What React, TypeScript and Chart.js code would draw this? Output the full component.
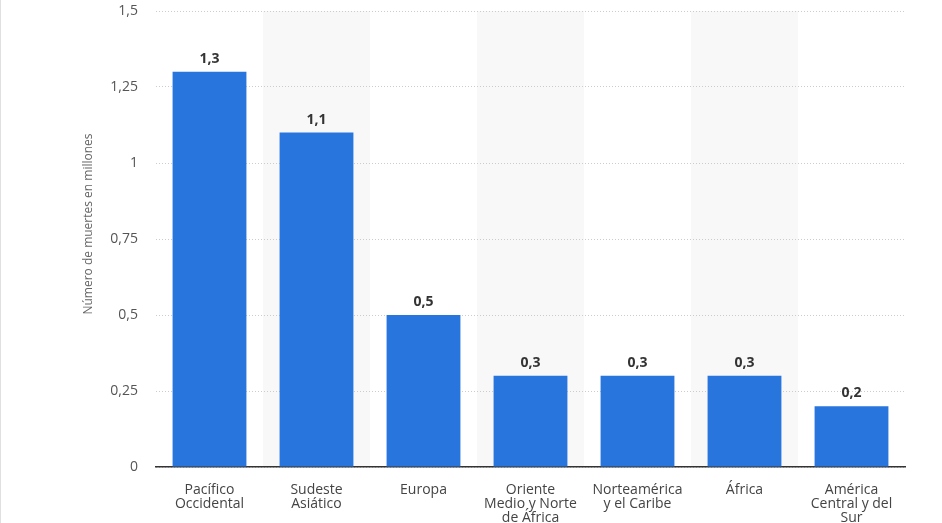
import React, { useEffect, useRef } from "react";
import { Chart, registerables } from "chart.js";

Chart.register(...registerables);

const categories: string[][] = [
  ["Pacífico", "Occidental"],
  ["Sudeste", "Asiático"],
  ["Europa"],
  ["Oriente", "Medio y Norte", "de África"],
  ["Norteamérica", "y el Caribe"],
  ["África"],
  ["América", "Central y del", "Sur"],
];
const values: number[] = [1.3, 1.1, 0.5, 0.3, 0.3, 0.3, 0.2];
const yTicks: number[] = [0, 0.25, 0.5, 0.75, 1, 1.25, 1.5];
const yTitle = "Número de muertes en millones";

const fmt = (v: number) => String(v).replace(".", ",");

const FONT = "'Open Sans', 'Noto Sans', sans-serif";

const shadePlugin = {
  id: "shade",
  beforeDraw(chart: any) {
    const { ctx, chartArea, scales } = chart;
    const x = scales.x;
    const n = categories.length;
    const w = (chartArea.right - chartArea.left) / n;
    ctx.save();
    ctx.fillStyle = "#f8f8f8";
    for (let i = 1; i < n; i += 2) {
      const c = x.getPixelForValue(i);
      ctx.fillRect(c - w / 2, chartArea.top, w, chartArea.bottom - chartArea.top);
    }
    ctx.restore();
  },
};

const labelPlugin = {
  id: "valueLabels",
  afterDatasetsDraw(chart: any) {
    const { ctx } = chart;
    const meta = chart.getDatasetMeta(0);
    ctx.save();
    ctx.font = `bold 14px ${FONT}`;
    ctx.fillStyle = "#333333";
    ctx.textAlign = "center";
    ctx.textBaseline = "bottom";
    meta.data.forEach((el: any, i: number) => {
      ctx.fillText(fmt(values[i]), el.x, el.y - 6);
    });
    // y axis title
    ctx.font = `12px ${FONT}`;
    ctx.fillStyle = "#666666";
    ctx.textBaseline = "middle";
    ctx.translate(89, 224);
    ctx.rotate(-Math.PI / 2);
    ctx.fillText(yTitle, 0, 0);
    ctx.restore();
  },
};

export default function App() {
  const ref = useRef<HTMLCanvasElement>(null);
  useEffect(() => {
    if (!ref.current) return;
    const chart = new Chart(ref.current, {
      type: "bar",
      data: {
        labels: categories,
        datasets: [
          {
            data: values,
            backgroundColor: "#2876dd",
            borderWidth: 0,
            barPercentage: 0.69,
            categoryPercentage: 1,
          },
        ],
      },
      plugins: [shadePlugin, labelPlugin],
      options: {
        animation: false,
        responsive: false,
        maintainAspectRatio: false,
        devicePixelRatio: 1,
        layout: { padding: { left: 75, top: 11, right: 37, bottom: 0 } },
        plugins: {
          legend: { display: false },
          tooltip: { enabled: false },
        },
        scales: {
          x: {
            grid: { display: false },
            border: { display: true, color: "#333333", width: 1.5 },
            ticks: {
              color: "#444444",
              font: { family: FONT, size: 14, lineHeight: 1.0 },
              padding: 8,
              maxRotation: 0,
              autoSkip: false,
            },
            afterFit(scale: any) {
              scale.height = 56;
            },
          },
          y: {
            min: 0,
            max: 1.5,
            afterBuildTicks(scale: any) {
              scale.ticks = yTicks.map((v) => ({ value: v }));
            },
            afterFit(scale: any) {
              scale.width = 81;
              scale.paddingTop = 0;
              scale.paddingBottom = 0;
            },
            grid: {
              color: "#cccccc",
              drawTicks: false,
              lineWidth: 1,
            },
            border: { display: false, dash: [1, 2] },
            ticks: {
              color: "#555555",
              font: { family: FONT, size: 14 },
              padding: 18,
              callback: (v: any) => fmt(Number(v)),
            },
          },
        },
      } as any,
    });
    return () => chart.destroy();
  }, []);
  return (
    <div style={{ position: "absolute", left: 0, top: 0, width: 942, height: 523, background: "#fff" }}>
      <div style={{ position: "absolute", left: 0, top: 0, width: 1, height: 523, background: "#e0e0e0" }} />
      <canvas ref={ref} width={942} height={523} style={{ display: "block" }} />
    </div>
  );
}
